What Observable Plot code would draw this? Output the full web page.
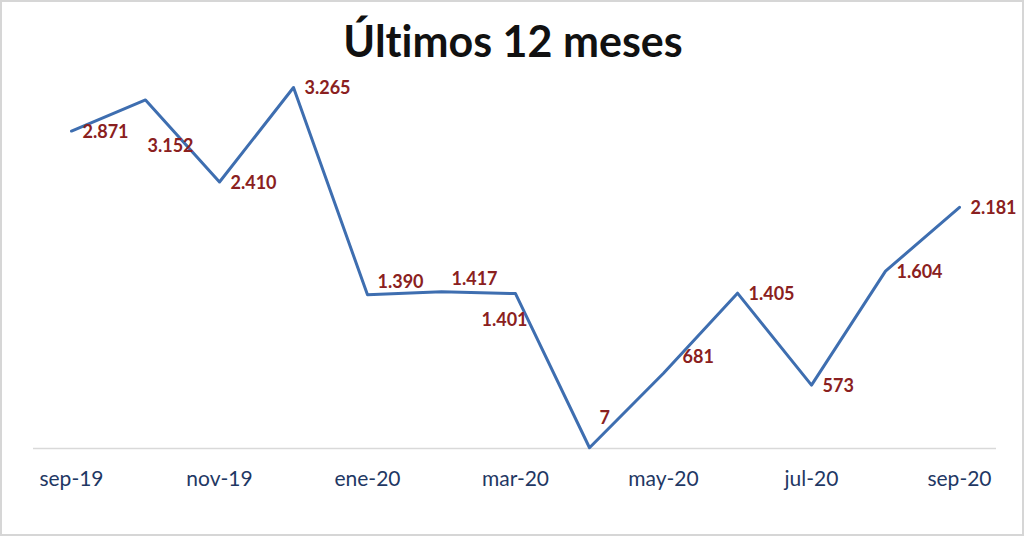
<!DOCTYPE html>
<html><head><meta charset="utf-8">
<script src="https://cdn.jsdelivr.net/npm/d3@7"></script>
<script src="https://cdn.jsdelivr.net/npm/@observablehq/plot@0.6"></script>
<style>
html,body{margin:0;padding:0;background:#fff;}
#wrap{position:relative;width:1024px;height:536px;overflow:hidden;}
#wrap .border{position:absolute;left:0;top:0;width:1024px;height:536px;box-sizing:border-box;border:2px solid #d6d6d6;pointer-events:none;}
#wrap svg{display:block;}
#wrap svg text{font-variant-ligatures:none;font-feature-settings:"liga" 0;}
</style></head><body><div id="wrap"><div class="border"></div></div>
<script>
const title = "Últimos 12 meses";
const months = ["sep-19","oct-19","nov-19","dic-19","ene-20","feb-20","mar-20","abr-20","may-20","jun-20","jul-20","ago-20","sep-20"];
const values = [2871, 3152, 2410, 3265, 1390, 1417, 1401, 7, 681, 1405, 573, 1604, 2181];
const tickLabels = ["sep-19","nov-19","ene-20","mar-20","may-20","jul-20","sep-20"];
const labelPlacement = ["right","below","right","right","above","above","belowLeft","up","aboveFar","right","right","right","right"];

const fmt = d3.formatLocale({thousands: ".", decimal: ",", grouping: [3], currency: ["", ""]}).format(",d");
const data = months.map((m, i) => ({month: m, value: values[i], label: fmt(values[i]), place: labelPlacement[i]}));

const placements = {
  right: {dx: 11, dy: 1, textAnchor: "start"},
  below: {dx: 2, dy: 46, textAnchor: "start"},
  above: {dx: 10, dy: -13, textAnchor: "start"},
  aboveFar: {dx: 19, dy: -16, textAnchor: "start"},
  belowLeft: {dx: -11, dy: 27, textAnchor: "middle"},
  up: {dx: 10, dy: -29, textAnchor: "start"}
};

const labelMarks = Object.entries(placements).map(([key, p]) =>
  Plot.text(data.filter(d => d.place === key), {
    x: "month", y: "value", text: "label",
    dx: p.dx, dy: p.dy, textAnchor: p.textAnchor,
    fontSize: 18, fontWeight: "bold", fill: "#8a2020"
  })
);

const chart = Plot.plot({
  width: 1024, height: 536,
  marginLeft: 33, marginRight: 28, marginTop: 61, marginBottom: 88,
  style: {fontFamily: "Lato, 'Open Sans', sans-serif", background: "transparent"},
  x: {type: "point", domain: months, padding: 0.5, label: null},
  y: {domain: [0, 3500], axis: null},
  marks: [
    Plot.ruleY([0], {stroke: "#d9d9d9", strokeWidth: 1.5}),
    Plot.axisX({ticks: tickLabels, tickSize: 0, tickPadding: 23, fontSize: 21, fill: "#1f3864", label: null}),
    Plot.lineY(data, {x: "month", y: "value", stroke: "#3e6eb0", strokeWidth: 3}),
    ...labelMarks,
    Plot.text([title], {frameAnchor: "top", text: d => d, dy: -35, dx: -2, fontSize: 43, fontWeight: "bold", fill: "#111"})
  ]
});
document.getElementById("wrap").prepend(chart);
</script>
</body></html>
